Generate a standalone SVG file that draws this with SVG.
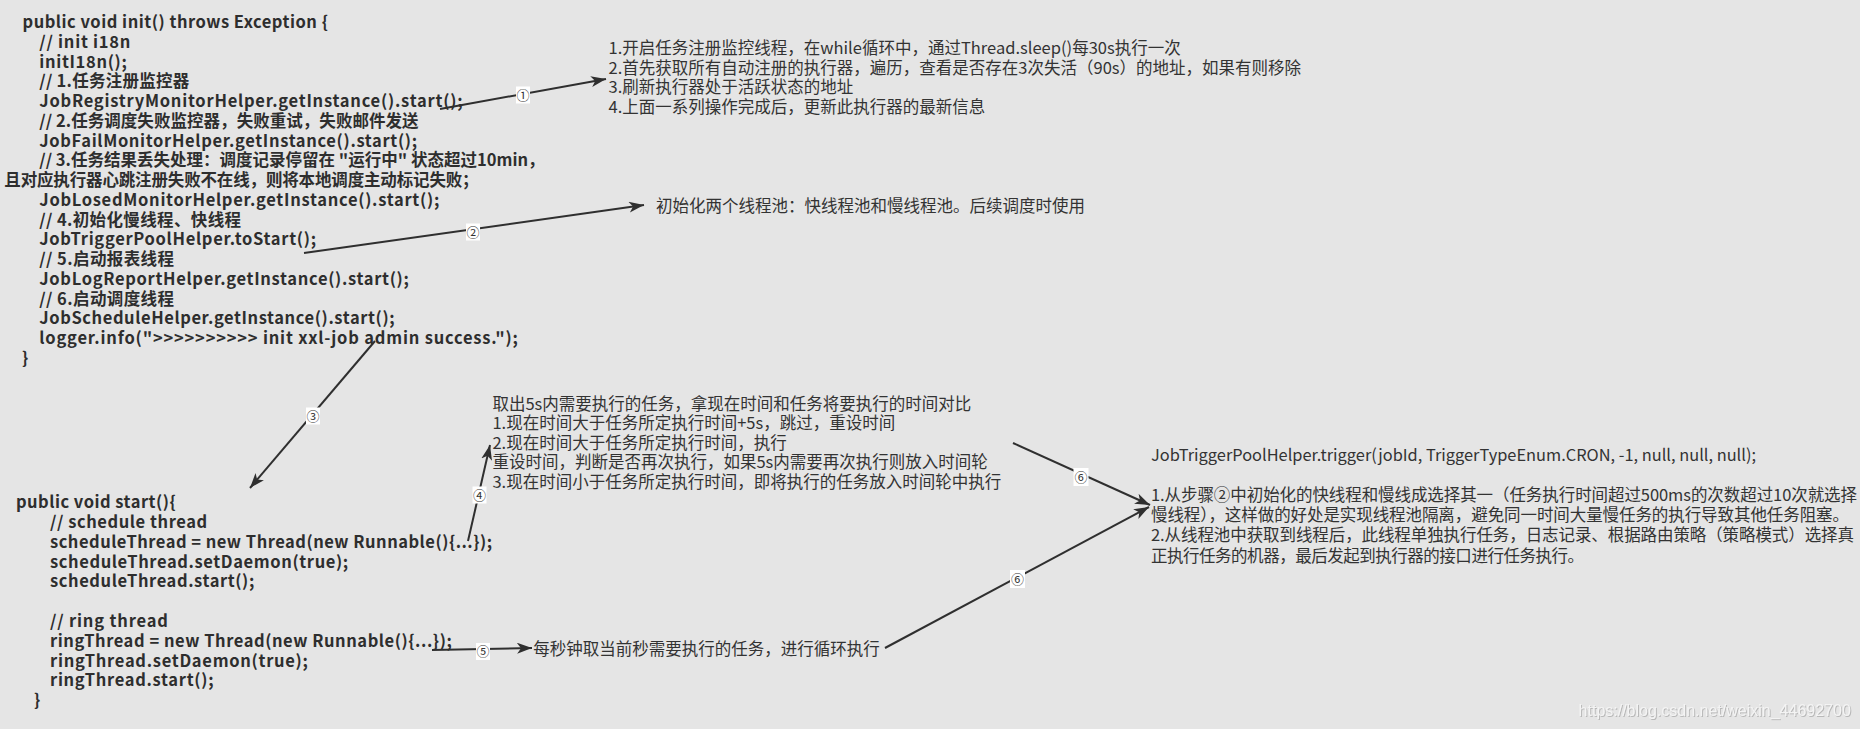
<svg xmlns="http://www.w3.org/2000/svg" width="1860" height="729" viewBox="0 0 1860 729">
<style>
.code{font-family:"Noto Sans CJK SC","Noto Sans",sans-serif;font-size:16.5px;font-weight:700;fill:#2e2e2e}
.note{font-family:"Noto Sans CJK SC","Noto Sans",sans-serif;font-size:16.5px;fill:#333}
.conn{stroke:#2f2f2f;stroke-width:2;fill:none;marker-end:url(#arrow)}
.lblbg{fill:#fff}
.lbl{font-family:"Noto Sans CJK SC","DejaVu Sans",sans-serif;font-size:13px;fill:#333;text-anchor:middle}
.wm{font-family:"Liberation Sans",Arial,sans-serif;font-size:16px;fill:#f4f4f4}
</style>
<defs>
<marker id="arrow" markerUnits="userSpaceOnUse" markerWidth="16" markerHeight="12" refX="15" refY="5.5" orient="auto">
<path d="M0,0 L15,5.5 L0,11 L4,5.5 Z" fill="#2f2f2f"/>
</marker>
<filter id="sh" x="-5%" y="-30%" width="110%" height="160%">
<feDropShadow dx="1" dy="1" stdDeviation="0.4" flood-color="#b8b8b8" flood-opacity="1"/>
</filter>
</defs>
<rect width="1860" height="729" fill="#e5e5e5"/>

<g id="code-init" class="code">
<text x="22.5" y="28.2" textLength="305.4">public void init() throws Exception {</text>
<text x="39.3" y="47.9" textLength="91.1">// init i18n</text>
<text x="39.3" y="67.7" textLength="87.5">initI18n();</text>
<text x="39.3" y="87.4" textLength="150">// 1.任务注册监控器</text>
<text x="39.3" y="107.2" textLength="423.2">JobRegistryMonitorHelper.getInstance().start();</text>
<text x="39.3" y="126.9" textLength="379.3">// 2.任务调度失败监控器，失败重试，失败邮件发送</text>
<text x="39.3" y="146.7" textLength="377.8">JobFailMonitorHelper.getInstance().start();</text>
<text x="39.3" y="166.4" textLength="505.3">// 3.任务结果丢失处理：调度记录停留在 "运行中" 状态超过10min，</text>
<text x="4.3" y="186.2" textLength="474.3">且对应执行器心跳注册失败不在线，则将本地调度主动标记失败；</text>
<text x="39.3" y="205.9" textLength="400">JobLosedMonitorHelper.getInstance().start();</text>
<text x="39.3" y="225.7" textLength="201.7">// 4.初始化慢线程、快线程</text>
<text x="39.3" y="245.4" textLength="276.7">JobTriggerPoolHelper.toStart();</text>
<text x="39.3" y="265.2" textLength="134.7">// 5.启动报表线程</text>
<text x="39.3" y="284.9" textLength="369.6">JobLogReportHelper.getInstance().start();</text>
<text x="39.3" y="304.7" textLength="134.7">// 6.启动调度线程</text>
<text x="39.3" y="324.4" textLength="355.3">JobScheduleHelper.getInstance().start();</text>
<text x="39.3" y="344.2" textLength="478.6">logger.info("&gt;&gt;&gt;&gt;&gt;&gt;&gt;&gt;&gt;&gt; init xxl-job admin success.");</text>
<text x="22" y="363.9">}</text>
</g>

<g id="code-start" class="code">
<text x="16" y="508.2" textLength="159.7">public void start(){</text>
<text x="50" y="528" textLength="157.1">// schedule thread</text>
<text x="50" y="547.8" textLength="442.1">scheduleThread = new Thread(new Runnable(){...});</text>
<text x="50" y="567.6" textLength="298.2">scheduleThread.setDaemon(true);</text>
<text x="50" y="587.4" textLength="204.3">scheduleThread.start();</text>
<text x="50" y="627" textLength="117.9">// ring thread</text>
<text x="50" y="646.8" textLength="401.8">ringThread = new Thread(new Runnable(){...});</text>
<text x="50" y="666.6" textLength="257.9">ringThread.setDaemon(true);</text>
<text x="50" y="686.4" textLength="163.6">ringThread.start();</text>
<text x="34" y="706.2">}</text>
</g>

<g id="note-1" class="note">
<text x="608.6" y="53.8">1.开启任务注册监控线程，在while循环中，通过Thread.sleep()每30s执行一次</text>
<text x="608.6" y="73.5">2.首先获取所有自动注册的执行器，遍历，查看是否存在3次失活（90s）的地址，如果有则移除</text>
<text x="608.6" y="93.2">3.刷新执行器处于活跃状态的地址</text>
<text x="608.6" y="112.9">4.上面一系列操作完成后，更新此执行器的最新信息</text>
</g>

<g id="note-2" class="note">
<text x="656" y="211.5">初始化两个线程池：快线程池和慢线程池。后续调度时使用</text>
</g>

<g id="note-3" class="note">
<text x="492.4" y="409.5">取出5s内需要执行的任务，拿现在时间和任务将要执行的时间对比</text>
<text x="492.4" y="429">1.现在时间大于任务所定执行时间+5s，跳过，重设时间</text>
<text x="492.4" y="448.5">2.现在时间大于任务所定执行时间，执行</text>
<text x="492.4" y="468.2">重设时间，判断是否再次执行，如果5s内需要再次执行则放入时间轮</text>
<text x="492.4" y="487.8">3.现在时间小于任务所定执行时间，即将执行的任务放入时间轮中执行</text>
</g>

<g id="note-4" class="note">
<text x="533.3" y="654.8">每秒钟取当前秒需要执行的任务，进行循环执行</text>
</g>

<g id="note-6" class="note">
<text x="1151" y="461" textLength="605" lengthAdjust="spacingAndGlyphs">JobTriggerPoolHelper.trigger(jobId, TriggerTypeEnum.CRON, -1, null, null, null);</text>
<text x="1151" y="500.9" textLength="706">1.从步骤②中初始化的快线程和慢线成选择其一（任务执行时间超过500ms的次数超过10次就选择</text>
<text x="1151" y="521.1" textLength="698">慢线程），这样做的好处是实现线程池隔离，避免同一时间大量慢任务的执行导致其他任务阻塞。</text>
<text x="1151" y="541.3" textLength="703">2.从线程池中获取到线程后，此线程单独执行任务，日志记录、根据路由策略（策略模式）选择真</text>
<text x="1151" y="561.5" textLength="433">正执行任务的机器，最后发起到执行器的接口进行任务执行。</text>
</g>

<g id="connectors">
<line class="conn" x1="440" y1="109" x2="606" y2="79"/>
<line class="conn" x1="304" y1="253" x2="644" y2="205"/>
<line class="conn" x1="375" y1="341" x2="250" y2="488"/>
<line class="conn" x1="468" y1="541" x2="490" y2="445"/>
<line class="conn" x1="432" y1="650" x2="532" y2="648"/>
<line class="conn" x1="1013" y1="443" x2="1150" y2="505"/>
<line class="conn" x1="885" y1="648" x2="1149" y2="507"/>
<g id="labels">
<rect class="lblbg" x="516" y="86.5" width="14" height="17"/><text class="lbl" x="523" y="99.5">①</text>
<rect class="lblbg" x="466" y="223.5" width="14" height="17"/><text class="lbl" x="473" y="236.5">②</text>
<rect class="lblbg" x="306" y="407.5" width="14" height="17"/><text class="lbl" x="313" y="420.5">③</text>
<rect class="lblbg" x="472.5" y="486.5" width="14" height="17"/><text class="lbl" x="479.5" y="499.5">④</text>
<rect class="lblbg" x="476" y="643" width="14" height="17"/><text class="lbl" x="483" y="656">⑤</text>
<rect class="lblbg" x="1073.5" y="468" width="15" height="18"/><text class="lbl" x="1081" y="481.5">⑥</text>
<rect class="lblbg" x="1010" y="570" width="15" height="18"/><text class="lbl" x="1017.5" y="583.5">⑥</text>
</g>
</g>

<text class="wm" x="1578.6" y="715.5" filter="url(#sh)">https://blog.csdn.net/weixin_44692700</text>
</svg>
